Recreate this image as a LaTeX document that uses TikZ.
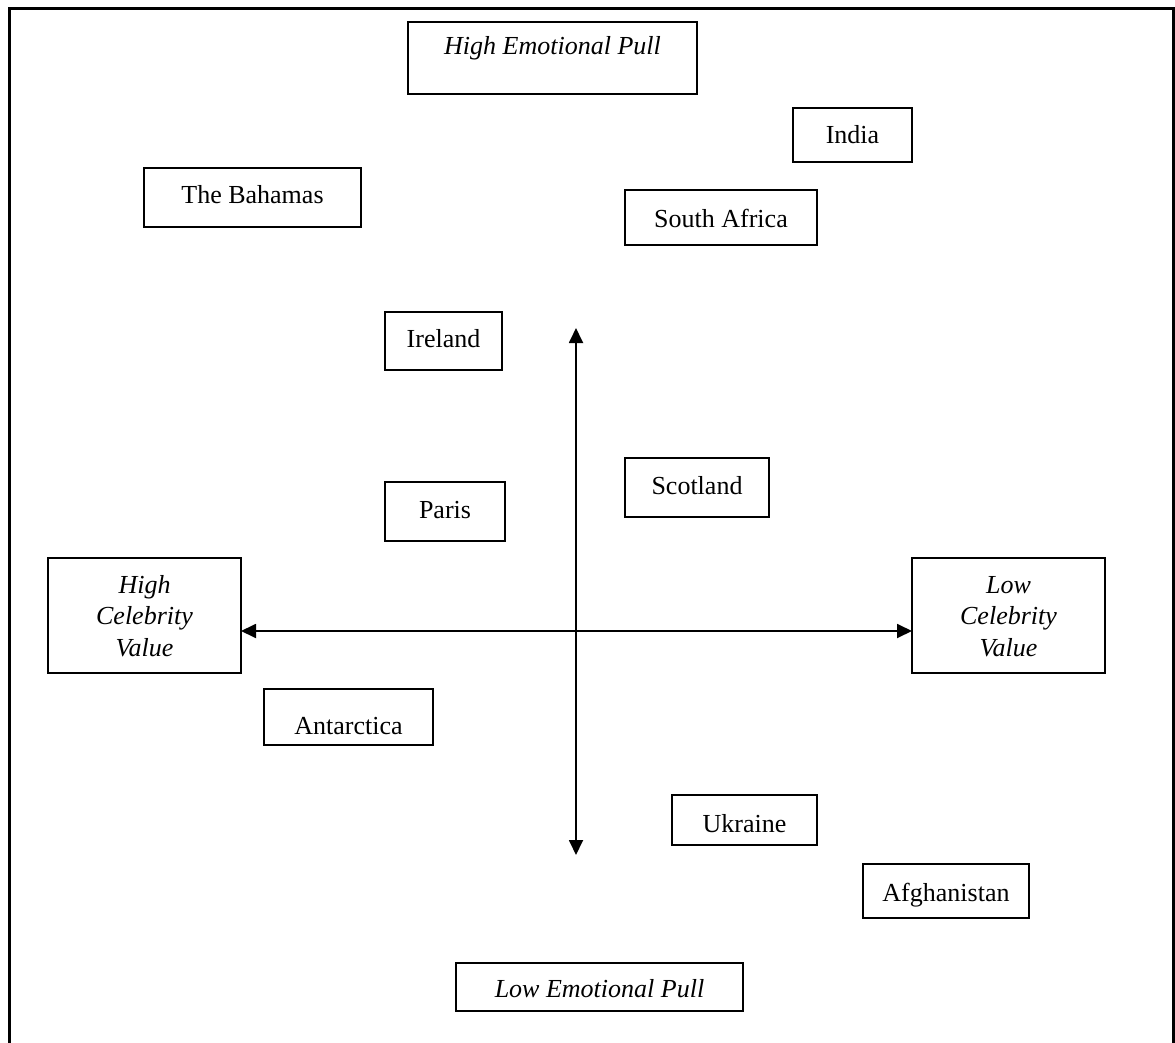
\documentclass[tikz,border=0pt]{standalone}
\usepackage{fontspec}
\setmainfont{Liberation Serif}
\usetikzlibrary{arrows.meta}

\tikzset{
  box/.style={draw, line width=1.8pt, inner sep=0pt, outer sep=0pt, fill=white},
  lbl/.style={inner sep=0pt, align=center, font=\fontsize{26}{31.5}\selectfont},
  axis/.style={line width=1.8pt, {Triangle[length=15pt,width=14pt]}-{Triangle[length=15pt,width=14pt]}},
  frame/.style={line width=3pt, line cap=rect}
}

% #1 name, #2 left, #3 top, #4 right, #5 bottom, #6 baseline of last line, #7 text
\newcommand\placebox[7]{%
  \node[box, minimum width={(#4-#2)*1pt}, minimum height={(#5-#3)*1pt}]
    (#1) at ({(#2+#4)/2},{(#3+#5)/2}) {};
  \node[lbl, anchor=base] (#1-text) at ({(#2+#4)/2},#6) {#7};
}

\begin{document}
\begin{tikzpicture}[x=1pt,y=-1pt]
  \useasboundingbox (0,0) rectangle (1175,1043);

  % outer frame, open at the bottom
  \draw[frame] (9,1043) -- (9,9) -- (1173,9) -- (1173,1043);

  % quadrant axes
  \coordinate (origin) at (576,631);
  \coordinate (vtop) at (576,328);
  \coordinate (vbot) at (576,855);

  \placebox{hep}{408}{22}{697}{94}{55}{\itshape High Emotional Pull}
  \placebox{lep}{456}{963}{743}{1011}{997}{\itshape Low Emotional Pull}
  \placebox{hcv}{48}{558}{241}{673}{656}{\itshape High\\\itshape Celebrity\\\itshape Value}
  \placebox{lcv}{912}{558}{1105}{673}{656}{\itshape Low\\\itshape Celebrity\\\itshape Value}

  \placebox{india}{793}{108}{912}{162}{144}{India}
  \placebox{bahamas}{144}{168}{361}{227}{204}{The Bahamas}
  \placebox{safrica}{625}{190}{817}{245}{227}{South Africa}
  \placebox{ireland}{385}{312}{502}{370}{347}{Ireland}
  \placebox{scotland}{625}{458}{769}{517}{494}{Scotland}
  \placebox{paris}{385}{482}{505}{541}{518}{Paris}
  \placebox{antarctica}{264}{689}{433}{745}{734}{Antarctica}
  \placebox{ukraine}{672}{795}{817}{845}{832}{Ukraine}
  \placebox{afghan}{863}{864}{1029}{918}{901}{Afghanistan}

  \draw[axis] (vtop) -- (vbot);
  \draw[axis] (hcv.east |- origin) -- (lcv.west |- origin);
\end{tikzpicture}
\end{document}
